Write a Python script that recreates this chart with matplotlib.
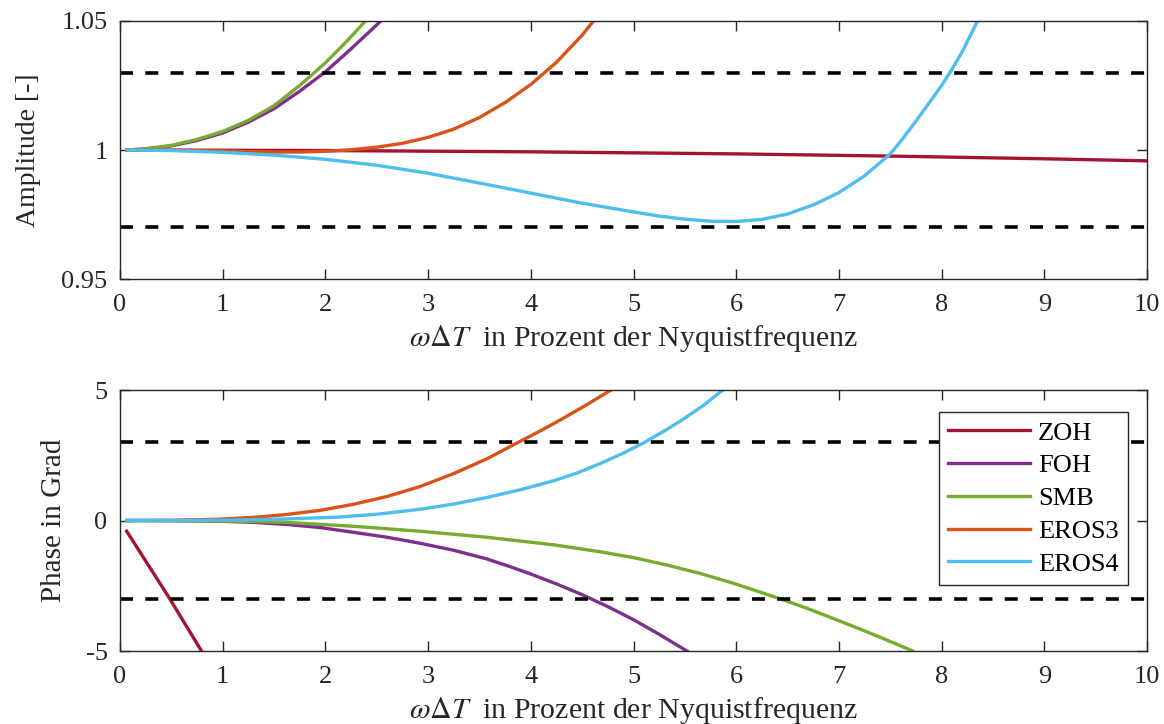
import matplotlib
matplotlib.use("Agg")
import matplotlib.pyplot as plt

plt.rcParams["font.family"] = ["Liberation Serif", "DejaVu Serif"]
plt.rcParams["mathtext.fontset"] = "stix"

# ---- Amplitude response (x in percent of Nyquist frequency) ----
amp_zoh_x = [0.07, 2.0, 4.0, 6.0, 7.58, 8.0, 9.0, 10.0]
amp_zoh_y = [1.0, 0.9998, 0.9993, 0.9985, 0.9976, 0.9973, 0.9966, 0.9958]

amp_foh_x = [0.07, 0.25, 0.5, 0.75, 1.0, 1.25, 1.5, 1.75, 2.0, 2.25, 2.54]
amp_foh_y = [1.0, 1.0004, 1.0016, 1.0037, 1.0066, 1.0108, 1.0160, 1.0228,
             1.0303, 1.0392, 1.0500]

amp_smb_x = [0.07, 0.25, 0.5, 0.75, 1.0, 1.25, 1.5, 1.75, 2.0, 2.2, 2.39]
amp_smb_y = [1.0, 1.0005, 1.0018, 1.0041, 1.0072, 1.0115, 1.0172, 1.0250,
             1.0338, 1.0418, 1.0500]

amp_eros3_x = [0.07, 0.5, 1.0, 1.25, 1.5, 1.75, 2.0, 2.25, 2.5, 2.75, 3.0,
               3.25, 3.5, 3.75, 4.0, 4.25, 4.5, 4.61]
amp_eros3_y = [1.0, 0.9999, 0.9996, 0.9994, 0.9992, 0.9992, 0.9995, 1.0001,
               1.0011, 1.0026, 1.0049, 1.0081, 1.0126, 1.0184, 1.0254, 1.0340,
               1.0445, 1.0500]

amp_eros4_x = [0.07, 0.5, 1.0, 1.5, 2.0, 2.5, 3.0, 3.5, 4.0, 4.5, 5.0, 5.25,
               5.5, 5.75, 6.0, 6.25, 6.5, 6.75, 7.0, 7.25, 7.5, 7.62, 7.75,
               7.87, 8.0, 8.1, 8.2, 8.35]
amp_eros4_y = [1.0, 0.9998, 0.9991, 0.9980, 0.9964, 0.9941, 0.9910, 0.9872,
               0.9833, 0.9794, 0.9760, 0.9744, 0.9732, 0.9724, 0.9723, 0.9731,
               0.9752, 0.9787, 0.9835, 0.9900, 0.9985, 1.0043, 1.0112, 1.0178,
               1.0250, 1.0312, 1.0380, 1.0500]

# ---- Phase response in degrees ----
ph_zoh_x = [0.065, 0.48, 0.80]
ph_zoh_y = [-0.41, -2.97, -5.04]

ph_foh_x = [0.07, 0.5, 1.0, 1.3, 1.62, 1.95, 2.27, 2.6, 2.92, 3.25, 3.57, 3.8,
            4.0, 4.25, 4.5, 4.75, 5.0, 5.25, 5.52]
ph_foh_y = [0.0, -0.005, -0.03, -0.07, -0.15, -0.27, -0.45, -0.64, -0.87,
            -1.14, -1.47, -1.77, -2.05, -2.43, -2.84, -3.30, -3.80, -4.36, -5.0]

ph_smb_x = [0.07, 1.0, 1.3, 1.62, 2.27, 2.92, 3.57, 4.22, 4.68, 5.0, 5.32,
            5.65, 5.97, 6.2, 6.43, 6.7, 6.95, 7.2, 7.43, 7.72]
ph_smb_y = [0.0, -0.02, -0.04, -0.07, -0.22, -0.41, -0.64, -0.93, -1.20,
            -1.42, -1.70, -2.03, -2.40, -2.70, -3.0, -3.38, -3.76, -4.15,
            -4.52, -5.0]

ph_eros3_x = [0.07, 0.5, 0.97, 1.3, 1.62, 1.95, 2.27, 2.6, 2.92, 3.25, 3.57,
              3.88, 4.1, 4.3, 4.55, 4.78]
ph_eros3_y = [0.0, 0.01, 0.05, 0.12, 0.23, 0.39, 0.62, 0.92, 1.30, 1.80, 2.36,
              3.0, 3.45, 3.88, 4.45, 5.0]

ph_eros4_x = [0.07, 1.0, 1.62, 2.12, 2.5, 2.92, 3.25, 3.57, 3.9, 4.22, 4.45,
              4.68, 4.9, 5.1, 5.3, 5.46, 5.67, 5.87]
ph_eros4_y = [0.0, 0.01, 0.06, 0.13, 0.24, 0.43, 0.63, 0.88, 1.18, 1.52, 1.82,
              2.19, 2.58, 2.98, 3.43, 3.82, 4.38, 5.0]

labels = ["ZOH", "FOH", "SMB", "EROS3", "EROS4"]
colors = ["#A2142F", "#7E2F8E", "#77AC30", "#D95319", "#4DBEEE"]

amp_series = [(amp_zoh_x, amp_zoh_y), (amp_foh_x, amp_foh_y),
              (amp_smb_x, amp_smb_y), (amp_eros3_x, amp_eros3_y),
              (amp_eros4_x, amp_eros4_y)]
ph_series = [(ph_zoh_x, ph_zoh_y), (ph_foh_x, ph_foh_y),
             (ph_smb_x, ph_smb_y), (ph_eros3_x, ph_eros3_y),
             (ph_eros4_x, ph_eros4_y)]

amp_limits = [1.03, 0.97]
ph_limits = [3, -3]

axis_color = "#262626"
fs = 19
lab_fs = 21.5
xlabel = r"$\omega\Delta T$  in Prozent der Nyquistfrequenz"

fig = plt.figure(figsize=(11.64, 7.24), dpi=100)
ax1 = fig.add_axes([0.1031, 0.6146, 0.8823, 0.3564])
ax2 = fig.add_axes([0.1031, 0.1008, 0.8823, 0.3605])

for ax, series, lims in ((ax1, amp_series, amp_limits), (ax2, ph_series, ph_limits)):
    for (xs, ys), c, lab in zip(series, colors, labels):
        ax.plot(xs, ys, color=c, lw=2.4, label=lab, solid_joinstyle="round")
    for v in lims:
        ax.axhline(v, color="black", lw=2.6, dashes=(3.6, 3.4))
    ax.set_xlim(0, 10)
    ax.set_xticks(range(0, 11))
    ax.tick_params(direction="in", top=True, right=True, length=7, width=1,
                   colors=axis_color, labelsize=fs, pad=9)
    ax.tick_params(axis="x", pad=11)
    for sp in ax.spines.values():
        sp.set_color(axis_color)
        sp.set_linewidth(1)
    ax.set_xlabel(xlabel, fontsize=lab_fs, color=axis_color, labelpad=5)

ax1.set_ylim(0.95, 1.05)
ax1.set_yticks([0.95, 1.0, 1.05])
ax1.set_yticklabels(["0.95", "1", "1.05"])
ax1.set_ylabel("Amplitude [-]", fontsize=20, color=axis_color, labelpad=15)

ax2.set_ylim(-5, 5)
ax2.set_yticks([-5, 0, 5])
ax2.set_yticklabels(["-5", "0", "5"])
ax2.set_ylabel("Phase in Grad", fontsize=21, color=axis_color, labelpad=13)

leg = ax2.legend(loc="upper right", bbox_to_anchor=(0.9815, 0.9157),
                 borderaxespad=0, fontsize=fs, frameon=True, fancybox=False,
                 handlelength=3.1, handletextpad=0.3, labelspacing=0.35,
                 borderpad=0.35, framealpha=1)
leg.get_frame().set_edgecolor(axis_color)
leg.get_frame().set_linewidth(1)
leg.set_zorder(10)

fig.savefig("out.png", dpi=100)
